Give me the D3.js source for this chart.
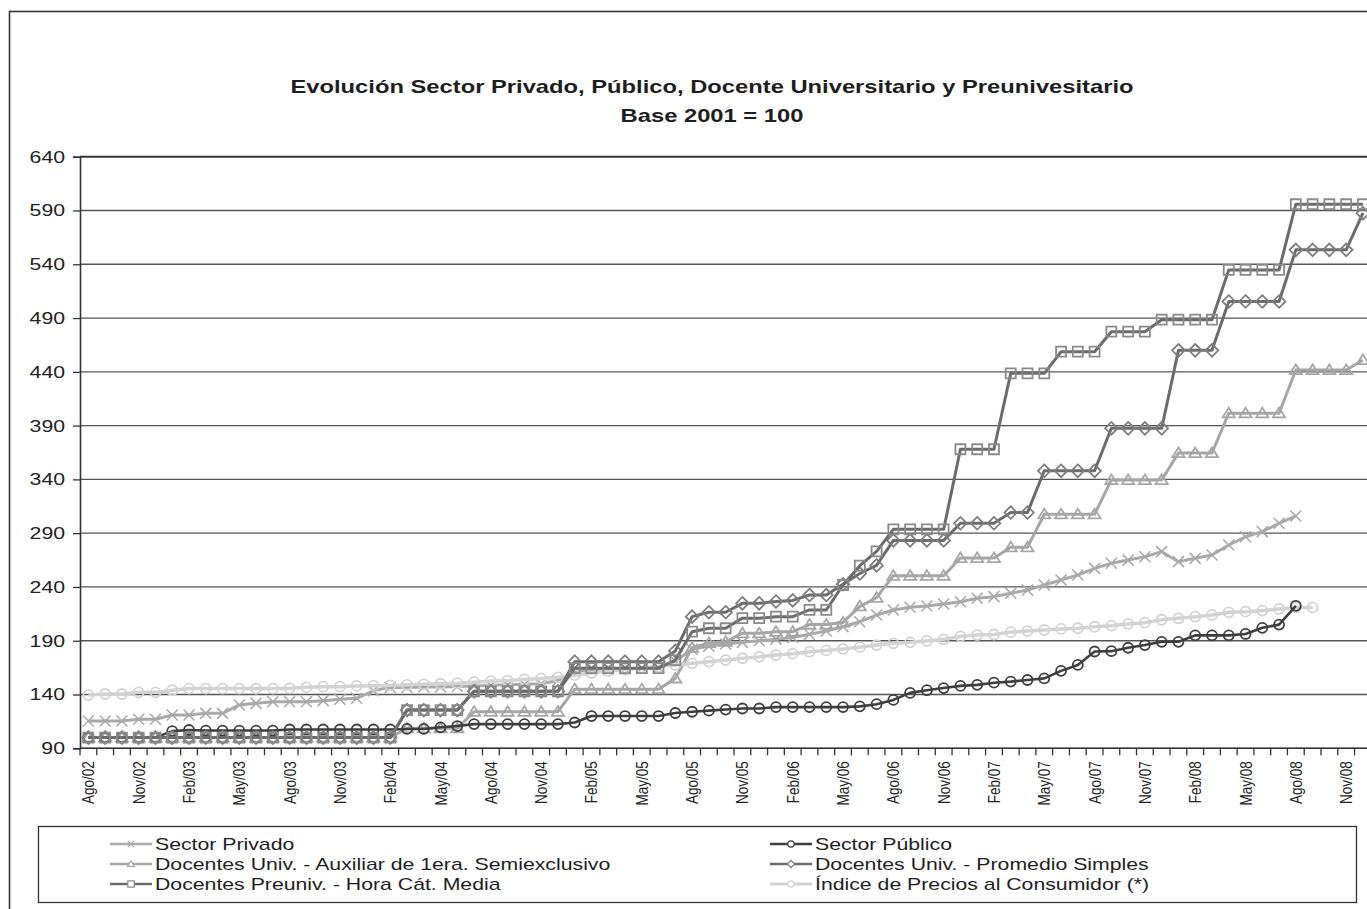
<!DOCTYPE html>
<html><head><meta charset="utf-8">
<script src="https://cdn.jsdelivr.net/npm/d3@7/dist/d3.min.js"></script>
<style>body{margin:0;background:#fff;} svg{display:block;font-family:"Liberation Sans",Arial,sans-serif;}</style>
</head><body>
<svg id="chart" width="1367" height="909"></svg>
<script>
// ---------- DATA ----------
const months = ["Ago/02","Sep/02","Oct/02","Nov/02","Dic/02",
 "Ene/03","Feb/03","Mar/03","Abr/03","May/03","Jun/03","Jul/03","Ago/03","Sep/03","Oct/03","Nov/03","Dic/03",
 "Ene/04","Feb/04","Mar/04","Abr/04","May/04","Jun/04","Jul/04","Ago/04","Sep/04","Oct/04","Nov/04","Dic/04",
 "Ene/05","Feb/05","Mar/05","Abr/05","May/05","Jun/05","Jul/05","Ago/05","Sep/05","Oct/05","Nov/05","Dic/05",
 "Ene/06","Feb/06","Mar/06","Abr/06","May/06","Jun/06","Jul/06","Ago/06","Sep/06","Oct/06","Nov/06","Dic/06",
 "Ene/07","Feb/07","Mar/07","Abr/07","May/07","Jun/07","Jul/07","Ago/07","Sep/07","Oct/07","Nov/07","Dic/07",
 "Ene/08","Feb/08","Mar/08","Abr/08","May/08","Jun/08","Jul/08","Ago/08","Sep/08","Oct/08","Nov/08","Dic/08"];

const tickLabels = ["Ago/02","Nov/02","Feb/03","May/03","Ago/03","Nov/03","Feb/04","May/04","Ago/04","Nov/04",
 "Feb/05","May/05","Ago/05","Nov/05","Feb/06","May/06","Ago/06","Nov/06","Feb/07","May/07","Ago/07","Nov/07",
 "Feb/08","May/08","Ago/08","Nov/08"];

const yTicks = [90,140,190,240,290,340,390,440,490,540,590,640];

const titleLines = ["Evolución Sector Privado, Público, Docente Universitario y Preunivesitario","Base 2001 = 100"];

const sectorPrivado = [115.4,115.4,115.4,117,117,121,121,122.5,122.5,
 130.3,131.8,133.3,133.3,133.3,134.3,135.6,136.5,143.6,146.7,
 146.5,147,147,147.5,148,148.5,149,149.5,150,153,
 161,163,163.5,164,164.5,165,171,182,185,187,
 188.5,190,191.5,193,196,199,203,207.7,213.9,218.6,
 221.1,222.3,224.2,226.3,229.5,231,234.1,237.2,241.8,246.5,
 251.1,257.3,262,265,268.1,272.8,263.5,266.6,269.7,279,
 286.7,291.4,299.2,306,null,null,null,null];

const sectorPublico = [100,100,100,100,100,106,107,106.5,106.5,106.5,106.5,106.5,
 107.5,107.5,107.5,107.5,107.5,107.5,107.5,108,108,109.5,110.7,
 112.5,112.5,112.5,112.5,112.5,112.5,114,120,120,120,120,120,
 122.8,124,125,126,127,127,128.3,128.3,128.3,128.3,128.3,
 129,131,135,141.5,144,146,148,149,151,152,153.5,155,162,167.5,180,180.3,183.5,186,189,189,
 195,195,195,196.3,202,205,222.5,null,null,null,null];

const docAuxiliar = [100,100,100,100,100,100,100,100,100,100,100,100,100,100,100,100,100,100,100,
 108.6,108.6,108.6,108.6,124,124,124,124,124,124,145,145,145,145,145,145,
 155,183.5,188,189,197,197,198.4,198.4,205,205,207,222,230,
 250.5,250.5,250.5,250.5,267,267,267,277,277,307.6,307.6,307.6,307.6,
 339.5,339.5,339.5,339.5,364.5,364.5,364.5,401.5,401.5,401.5,401.5,441.7,441.7,441.7,441.7,451];

const docPromedio = [100,100,100,100,100,100,100,100,100,100,100,100,100,100,100,100,100,100,100,
 125.5,125.5,125.5,125.5,143,143,143,143,143,143,170.5,170.5,170.5,170.5,170.5,170.5,
 180.5,212.4,216.5,216.5,224.8,224.8,226.5,227.5,232.5,232.5,242.5,252.5,260,
 283.3,283.3,283.3,283.3,299.2,299.2,299.2,309.2,309.2,348,348,348,348,
 387.5,387.5,387.5,387.5,460,460,460,505.4,505.4,505.4,505.4,553.4,553.4,553.4,553.4,587.5];

const docPreuniv = [100,100,100,100,100,100,100,100,100,100,100,100,100,100,100,100,100,100,100,
 125.5,125.5,125.5,125.5,143,143,143,143,143,143,164.5,164.5,164.5,164.5,164.5,164.5,
 172,198.4,201.6,201.6,211,211,212.4,212.4,218.6,218.6,241.8,259.8,273,
 293.6,293.6,293.6,293.6,368,368,368,438.6,438.6,438.6,458.7,458.7,458.7,
 477.3,477.3,477.3,488.5,488.5,488.5,488.5,534.7,534.7,534.7,534.7,595.8,595.8,595.8,595.8,595.8];

const ipc = [139.5,140.5,140.5,142,142,144,145.5,145.5,145.5,145.5,
 145.5,145.5,145.8,146.7,147.3,147.3,148,148.2,148.5,149,
 149.5,150,150.5,151.5,152.5,153,154,155,156,158,
 160,162,163,165,166,167.5,169,170.5,172,173.7,
 175,176.7,178,179.8,181,182.3,184,186,187.6,188.5,
 189.8,191.3,194,195.3,195.8,198,199,200,201,201.6,
 203,204,205.6,206.8,209.5,210.8,212.4,214,216.4,217,
 218,219.5,221,221,null,null,null];

const seriesNames = ["Sector Privado","Sector Público","Docentes Univ. - Auxiliar de 1era. Semiexclusivo",
 "Docentes Univ. - Promedio Simples","Docentes Preuniv. - Hora Cát. Media","Índice de Precios al Consumidor (*)"];
const seriesValues = [sectorPrivado, sectorPublico, docAuxiliar, docPromedio, docPreuniv, ipc];

// ---------- STYLE ----------
const styles = [
  {line:"#a9a9a9", mark:"#a9a9a9", w:3, marker:"x"},
  {line:"#3e3e3e", mark:"#3e3e3e", w:2.6, marker:"circle"},
  {line:"#a6a6a6", mark:"#a6a6a6", w:3, marker:"triangle"},
  {line:"#6c6c6c", mark:"#7e7e7e", w:3, marker:"diamond"},
  {line:"#6c6c6c", mark:"#8a8a8a", w:3, marker:"square"},
  {line:"#d3d3d3", mark:"#d3d3d3", w:3.5, marker:"circle"}
];
const drawOrder = [0,2,5,1,3,4];
const stretch = 1.25;   // horizontal text stretch seen in the reference

const svg = d3.select("#chart");
const pLeft = 80, pTop = 156.7, pBottom = 748.3, pRight = 1371.3;

const x = d3.scaleBand().domain(months).range([pLeft, pRight]).paddingInner(0).paddingOuter(0);
const bw = x.bandwidth();
const cx = m => x(m) + bw/2;
const y = d3.scaleLinear().domain([90,640]).range([pBottom, pTop]);

// outer frame
svg.append("rect").attr("x",9.5).attr("y",11.5).attr("width",1400).attr("height",950)
  .attr("fill","#fff").attr("stroke","#333").attr("stroke-width",1.6);

// title
svg.selectAll("text.title").data(titleLines).join("text").attr("class","title")
  .attr("transform",(d,i)=>`translate(712,${93+i*29}) scale(${stretch},1)`).attr("text-anchor","middle")
  .attr("font-size","19px").attr("font-weight","bold").attr("fill","#1e1e1e").text(d=>d);

// gridlines
svg.append("g").selectAll("line").data(yTicks).join("line")
  .attr("x1",pLeft).attr("x2",pRight).attr("y1",d=>y(d)).attr("y2",d=>y(d))
  .attr("stroke",d=>d===640?"#333":"#555").attr("stroke-width",d=>d===640?2:1.3);

// y axis
const yAxis = d3.axisLeft(y).tickValues(yTicks).tickSize(7).tickPadding(8).tickFormat(d3.format("d"));
const gy = svg.append("g").attr("transform",`translate(${pLeft},0)`).call(yAxis);
gy.select(".domain").attr("stroke","#333").attr("stroke-width",1.6);
gy.selectAll(".tick line").attr("stroke","#333").attr("stroke-width",1.3);
gy.selectAll(".tick text").attr("font-size","17px").attr("font-family","Liberation Sans, Arial, sans-serif")
  .attr("fill","#222").attr("x",-15/stretch).attr("transform",`scale(${stretch},1)`);

// x axis line + ticks at category boundaries
svg.append("line").attr("x1",pLeft).attr("x2",pRight).attr("y1",pBottom).attr("y2",pBottom)
  .attr("stroke","#333").attr("stroke-width",1.6);
svg.append("g").selectAll("line").data(months).join("line")
  .attr("x1",d=>x(d)).attr("x2",d=>x(d)).attr("y1",pBottom).attr("y2",pBottom+7)
  .attr("stroke","#333").attr("stroke-width",1.3);
svg.selectAll("text.xl").data(tickLabels).join("text").attr("class","xl")
  .attr("transform",d=>`translate(${cx(d)+6},${pBottom+13}) scale(${stretch},1) rotate(-90)`)
  .attr("text-anchor","end").attr("font-size","13.5px").attr("fill","#222").text(d=>d);

// marker shapes
function markerPath(type, s){
  switch(type){
    case "x": return `M${-s},${-s}L${s},${s}M${-s},${s}L${s},${-s}`;
    case "circle": return d3.symbol(d3.symbolCircle, Math.PI*s*s)();
    case "triangle": return `M0,${-s}L${s*1.1},${s*0.75}L${-s*1.1},${s*0.75}Z`;
    case "diamond": return `M0,${-s*1.15}L${s*1.15},0L0,${s*1.15}L${-s*1.15},0Z`;
    case "square": return `M${-s},${-s}H${s}V${s}H${-s}Z`;
  }
}
const markSize = {x:5.5, circle:5, triangle:5.5, diamond:5.5, square:5};

const lineGen = d3.line().defined(d=>d.v!=null).x(d=>cx(d.m)).y(d=>y(d.v));

const plot = svg.append("g");
drawOrder.forEach(si=>{
  const st = styles[si];
  const pts = seriesValues[si].map((v,i)=>({m:months[i], v}));
  const g = plot.append("g");
  g.append("path").datum(pts).attr("d",lineGen).attr("fill","none")
    .attr("stroke",st.line).attr("stroke-width",st.w).attr("stroke-linejoin","round");
  g.selectAll("path.mk").data(pts.filter(d=>d.v!=null)).join("path").attr("class","mk")
    .attr("transform",d=>`translate(${cx(d.m)},${y(d.v)})`)
    .attr("d",markerPath(st.marker, markSize[st.marker]))
    .attr("fill","none").attr("stroke",st.mark).attr("stroke-width",st.marker==="x"?1.6:1.8);
});

// legend
const lg = svg.append("g");
lg.append("rect").attr("x",38.5).attr("y",826.5).attr("width",1318).attr("height",76)
  .attr("fill","#fff").attr("stroke","#333").attr("stroke-width",1.3);
const legPos = seriesNames.map((n,i)=>({i, col:i%2, row:Math.floor(i/2)}));
const colX = [110, 770];
legPos.forEach(p=>{
  const st = styles[p.i];
  const ly = 844 + p.row*20;
  const x0 = colX[p.col];
  lg.append("line").attr("x1",x0).attr("x2",x0+42).attr("y1",ly).attr("y2",ly)
    .attr("stroke",st.line).attr("stroke-width",st.w-0.3);
  lg.append("path").attr("transform",`translate(${x0+21},${ly})`)
    .attr("d",markerPath(st.marker, 3.2)).attr("fill","#fff").attr("stroke",st.mark).attr("stroke-width",1.2);
  lg.append("text").attr("transform",`translate(${x0+45},${ly+6}) scale(${stretch},1)`)
    .attr("font-size","17px").attr("fill","#1e1e1e").text(seriesNames[p.i]);
});
</script>
</body></html>
